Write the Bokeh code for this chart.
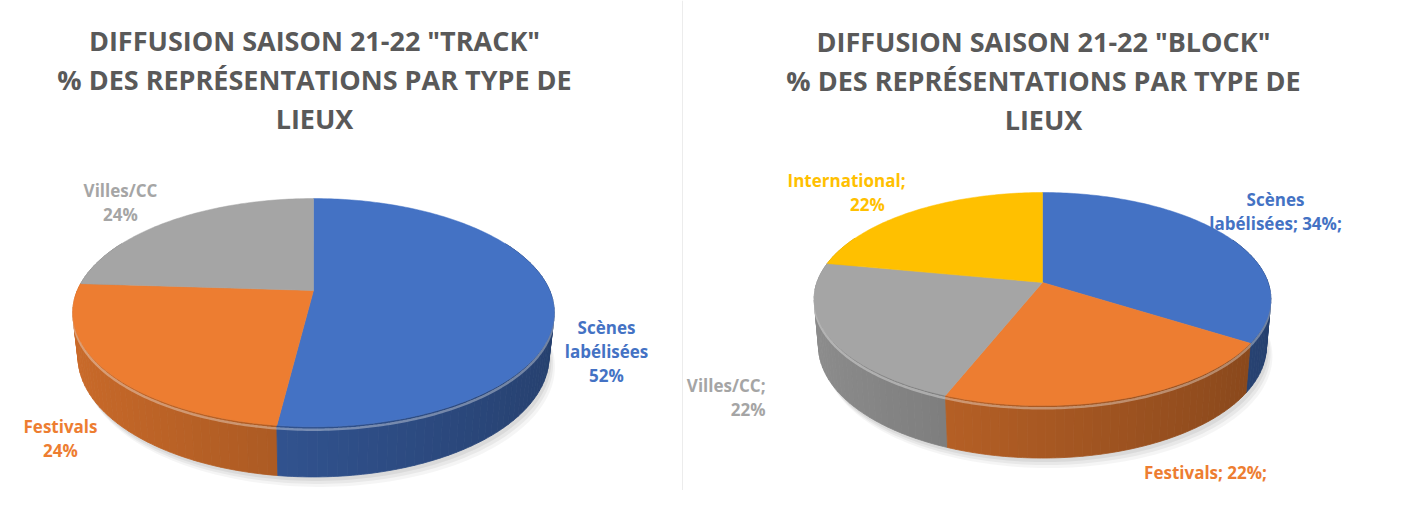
import numpy as np
from bokeh.plotting import figure
from bokeh.models import Range1d, ColumnDataSource, Span
from bokeh.layouts import row
from bokeh.embed import file_html
from bokeh.resources import INLINE
from bokeh.core.properties import value

# ---------------- data ----------------
track_title = ['DIFFUSION SAISON 21-22 "TRACK"', "% DES REPRÉSENTATIONS PAR TYPE DE", "LIEUX"]
track_categories = ["Scènes labélisées", "Festivals", "Villes/CC"]
track_values = [52, 24, 24]
track_colors = ["#4472C4", "#ED7D31", "#A5A5A5"]
track_label_lines = [["Scènes", "labélisées", "{v}%"], ["Festivals", "{v}%"], ["Villes/CC", "{v}%"]]

block_title = ['DIFFUSION SAISON 21-22 "BLOCK"', "% DES REPRÉSENTATIONS PAR TYPE DE", "LIEUX"]
block_categories = ["Scènes labélisées", "Festivals", "Villes/CC", "International"]
block_values = [34, 22, 22, 22]
block_colors = ["#4472C4", "#ED7D31", "#A5A5A5", "#FFC000"]
block_label_lines = [["Scènes", "labélisées; {v}%;"], ["Festivals; {v}%;"], ["Villes/CC;", "{v}%"], ["International;", "{v}%"]]

# ---------------- layout / style (screen pixel coordinates) ----------------
FONT = value("Open Sans")
TITLE_COLOR = "#595959"
TITLE_SIZE = "27px"
LABEL_SIZE = "17px"

track_geom = dict(cx=313, cy=290, e=np.arcsin(0.465), D=4.56, k=1077, h=0.2126)
block_geom = dict(cx=1042, cy=282, e=np.arcsin(0.461), D=5.71, k=1288, h=0.238)

track_title_pos = dict(x=314, y=[40, 79, 118])
block_title_pos = dict(x=1043, y=[41, 80, 119])

# label anchors: (x for each line, first line centre y, align)
track_label_pos = [([606, 606, 606], 327, "center"), ([60, 60], 426, "center"), ([120, 120], 190, "center")]
block_label_pos = [([1275, 1275], 199, "center"), ([1205], 472, "center"),
                   ([765, 765], 385, "right"), ([846, 867], 180, "center")]
LINE_H = 24


def project(theta, z, g):
    x = np.sin(theta)
    y = np.cos(theta)
    s, c = np.sin(g["e"]), np.cos(g["e"])
    w = g["D"] + y * c - z * s
    u = x * g["k"] / w
    v = (y * s + z * c) * g["k"] / w
    return g["cx"] + u, -(g["cy"] - v), w


def shade(hex_color, f):
    r, gg, b = int(hex_color[1:3], 16), int(hex_color[3:5], 16), int(hex_color[5:7], 16)
    return "#%02x%02x%02x" % (int(r * f), int(gg * f), int(b * f))


def draw_pie(p, values, colors, g):
    total = float(sum(values))
    cum = np.concatenate([[0.0], np.cumsum(values)]) / total * 2 * np.pi
    h = g["h"]

    # soft shadow
    th = np.linspace(0, 2 * np.pi, 240)
    bx, by, _ = project(th, -h, g)
    for off, a in [(10, 0.04), (7, 0.05), (4, 0.06)]:
        p.patch(bx + off * 0.6, by - off, fill_color="#000000", fill_alpha=a, line_color=None)

    # side walls
    quads = []
    for i, col in enumerate(colors):
        a0, a1 = cum[i], cum[i + 1]
        n = max(2, int(np.degrees(a1 - a0) / 2))
        edges = np.linspace(a0, a1, n + 1)
        for t0, t1 in zip(edges[:-1], edges[1:]):
            tm = 0.5 * (t0 + t1)
            if np.cos(tm) > 0.45:
                continue
            tt = np.linspace(t0, t1, 3)
            xt, yt, _ = project(tt, 0.0, g)
            xb, yb, _ = project(tt[::-1], -h, g)
            _, _, wm = project(np.array([tm]), 0.0, g)
            f = 0.86 - 0.30 * (np.sin(tm) + 1) / 2
            c_ = shade(col, f)
            quads.append((wm[0], list(np.r_[xt, xb]), list(np.r_[yt, yb]), c_))
    quads.sort(key=lambda q: -q[0])
    src = ColumnDataSource(dict(xs=[q[1] for q in quads], ys=[q[2] for q in quads], c=[q[3] for q in quads]))
    p.patches("xs", "ys", source=src, fill_color="c", line_color="c", line_width=0.8)

    # bevel highlight along front top edge
    tf = np.linspace(np.pi / 2 + 0.05, 3 * np.pi / 2 - 0.05, 200)
    hx, hy, _ = project(tf, -0.012, g)
    p.line(hx, hy, line_color="#ffffff", line_alpha=0.35, line_width=2.5)

    # top faces
    txs, tys, tcs = [], [], []
    for i, col in enumerate(colors):
        a0, a1 = cum[i], cum[i + 1]
        n = max(8, int(np.degrees(a1 - a0)))
        tt = np.linspace(a0, a1, n)
        xt, yt, _ = project(tt, 0.0, g)
        txs.append([g["cx"]] + list(xt))
        tys.append([-g["cy"]] + list(yt))
        tcs.append(col)
    p.patches(txs, tys, fill_color=tcs, line_color=tcs, line_width=0.5)


def draw_texts(p, title, tpos, values, colors, label_lines, lpos):
    p.text(x=[tpos["x"]] * len(title), y=[-yy for yy in tpos["y"]], text=title,
           text_font=FONT, text_font_style="bold", text_font_size=TITLE_SIZE,
           text_color=TITLE_COLOR, text_align="center", text_baseline="middle")
    for v, col, lines, (lxs, ly, al) in zip(values, colors, label_lines, lpos):
        txt = [ln.format(v=v) for ln in lines]
        p.text(x=lxs, y=[-(ly + j * LINE_H) for j in range(len(txt))], text=txt,
               text_font=FONT, text_font_style="bold", text_font_size=LABEL_SIZE,
               text_color=col, text_align=al, text_baseline="middle")


def make_fig(width, x0, x1):
    p = figure(width=width, height=490, x_range=Range1d(x0, x1), y_range=Range1d(-490, 0),
               output_backend="svg", toolbar_location=None, min_border=0,
               background_fill_color="#ffffff", border_fill_color="#ffffff")
    p.axis.visible = False
    p.grid.visible = False
    p.outline_line_color = None
    return p


p1 = make_fig(683, 0, 683)
draw_pie(p1, track_values, track_colors, track_geom)
draw_texts(p1, track_title, track_title_pos, track_values, track_colors, track_label_lines, track_label_pos)
p1.add_layout(Span(location=682, dimension="height", line_color="#ececec", line_width=1))

p2 = make_fig(703, 683, 1386)
draw_pie(p2, block_values, block_colors, block_geom)
draw_texts(p2, block_title, block_title_pos, block_values, block_colors, block_label_lines, block_label_pos)

layout = row(p1, p2)
open("out.html", "w").write(file_html(layout, INLINE))
